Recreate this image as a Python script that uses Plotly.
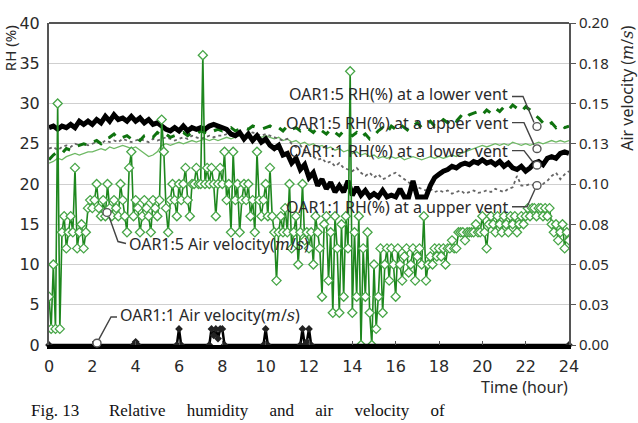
import plotly.graph_objects as go

# ---------------- data ----------------
# RH series sampled every 0.2 h (0 .. 24 h)
hours_rh = [round(i * 0.2, 1) for i in range(121)]

rh_oar11_lower = [
    27.0, 27.2, 26.8, 27.2, 27.0, 27.4, 27.0, 27.8, 27.4, 27.8,
    27.4, 28.0, 27.6, 28.4, 27.8, 28.6, 28.0, 28.2, 27.8, 28.4,
    27.8, 28.2, 27.6, 28.0, 27.4, 27.6, 27.2, 26.8, 26.6, 27.0,
    26.6, 27.2, 26.6, 27.0, 26.8, 27.0, 26.8, 27.2, 27.4, 27.2,
    27.0, 26.8, 26.2, 26.0, 26.4, 25.6, 26.2, 25.4, 26.0, 25.2,
    25.6, 24.8, 24.4, 24.8, 23.6, 23.8, 22.6, 23.2, 21.8, 22.4,
    20.8, 21.4, 19.8, 20.6, 19.4, 20.2, 19.0, 19.8, 19.0, 20.4,
    18.6, 19.6, 18.6, 19.2, 18.4, 18.8, 18.4, 19.2, 18.4, 18.6,
    18.4, 19.4, 18.4, 18.4, 20.4, 18.4, 18.4, 18.4, 19.8, 20.8,
    21.2, 21.6, 21.8, 22.2, 22.0, 22.4, 22.6, 22.4, 22.8, 22.6,
    23.0, 22.6, 22.8, 22.4, 22.8, 22.2, 22.6, 22.0, 21.8, 22.2,
    21.6, 22.0, 22.6, 22.8, 22.4, 23.2, 23.4, 23.2, 23.8, 24.0,
    23.8,
]

rh_oar11_upper = [
    24.4, 24.6, 24.2, 24.6, 24.8, 24.6, 25.0, 24.8, 25.0, 24.8,
    25.0, 25.2, 25.0, 25.4, 25.2, 25.4, 25.2, 25.6, 25.4, 25.2,
    25.4, 25.6, 25.4, 25.2, 25.6, 25.4, 25.6, 25.8, 25.6, 25.4,
    25.6, 25.8, 25.6, 26.0, 25.8, 25.6, 25.8, 26.0, 25.8, 26.0,
    26.0, 26.2, 26.0, 25.8, 26.2, 26.0, 26.2, 26.4, 26.2, 26.0,
    26.2, 26.0, 25.8, 25.6, 25.4, 25.6, 25.0, 24.6, 24.8, 24.2,
    23.8, 23.4, 23.0, 23.2, 22.6, 22.8, 22.2, 22.6, 22.0, 21.8,
    21.6, 22.0, 21.4, 21.0, 21.4, 20.8, 21.2, 20.6, 20.8, 21.2,
    21.4, 21.0, 20.6, 20.2, 19.8, 19.6, 19.4, 19.2, 19.4, 19.0,
    19.2, 19.0, 19.2, 18.8, 19.0, 19.2, 18.8, 19.0, 19.2, 18.9,
    19.0, 19.2, 19.0, 19.4, 19.2, 19.0, 19.4, 19.6, 21.0, 19.8,
    19.8, 20.0, 19.8, 20.2, 20.0, 20.4, 21.0, 21.4, 20.6, 21.2,
    21.6,
]

rh_oar15_lower = [
    23.0, 23.6, 24.0, 23.8, 24.4, 24.2, 24.6, 24.8, 25.0, 24.8,
    25.2, 25.4, 25.0, 25.6, 25.8, 26.2, 25.6, 25.8, 26.0, 25.6,
    25.8, 25.4, 26.0, 26.2, 25.8, 26.4, 26.0, 26.2, 25.8, 26.0,
    26.2, 26.4, 26.0, 26.4, 26.2, 26.6, 26.4, 26.2, 26.6, 26.8,
    26.6, 26.8, 27.0, 26.6, 26.8, 27.0, 26.8, 27.2, 27.0, 26.8,
    27.0, 27.2, 26.8, 27.0, 26.6, 27.2, 26.8, 27.0, 26.6, 27.0,
    26.8, 26.4, 27.0, 26.6, 26.2, 26.8, 26.4, 26.0, 26.6, 26.2,
    26.0, 26.4, 25.8, 26.2, 25.6, 26.0, 26.6, 27.0, 26.4, 27.2,
    26.8, 27.4, 27.0, 26.6, 27.2, 27.6, 27.0, 27.4, 27.8, 27.2,
    27.6, 28.0, 27.6, 28.2, 27.8, 28.4, 28.0, 28.6, 28.8, 29.0,
    28.6, 29.2, 28.8, 29.4, 29.0, 29.6, 29.2, 29.8, 29.4, 29.0,
    29.6, 29.2, 28.6, 28.2, 27.6, 27.2, 27.6, 27.0, 27.4, 27.0,
    27.2,
]

rh_oar15_upper = [
    22.6, 22.8, 23.2, 23.0, 23.4, 23.6, 23.8, 23.6, 23.8, 24.0,
    24.0, 24.2, 24.4, 24.2, 24.6, 24.4, 24.6, 24.8, 24.6, 24.4,
    24.6, 24.2, 23.8, 23.4, 23.6, 24.0, 24.8, 25.0, 24.8, 25.0,
    25.2, 25.0, 25.2, 25.4, 25.2, 25.4, 25.6, 25.4, 25.6, 25.4,
    25.6, 25.8, 25.6, 25.8, 26.0, 25.8, 26.0, 25.8, 26.0, 25.8,
    26.0, 25.8, 25.6, 25.8, 25.4, 25.6, 25.2, 25.4, 25.0, 25.2,
    24.8, 25.0, 24.6, 24.8, 24.4, 24.6, 24.2, 24.4, 24.0, 24.2,
    23.8, 24.0, 23.6, 23.8, 23.4, 23.6, 23.2, 23.4, 23.2, 23.4,
    23.2, 23.4, 23.0, 23.2, 23.4, 23.2, 23.0, 23.2, 23.4, 23.2,
    23.4, 23.2, 23.4, 23.6, 23.4, 23.8, 24.0, 24.2, 24.4, 24.6,
    24.8, 24.6, 24.8, 25.0, 24.8, 25.0, 24.8, 25.2, 25.0, 24.8,
    25.0, 24.8, 25.0, 25.2, 25.0, 25.2, 25.4, 25.2, 25.4, 25.2,
    25.4,
]

# OAR1:5 air velocity (m/s), sampled every 0.1 h
hours_vel = [round(i * 0.1, 1) for i in range(241)]
vel_oar15 = [
    0.030, 0.010, 0.050, 0.010, 0.150, 0.010, 0.070, 0.080, 0.060, 0.070,
    0.080, 0.070, 0.110, 0.060, 0.070, 0.075, 0.060, 0.070, 0.085, 0.090,
    0.085, 0.090, 0.100, 0.085, 0.080, 0.090, 0.080, 0.100, 0.085, 0.080,
    0.090, 0.085, 0.080, 0.100, 0.090, 0.080, 0.070, 0.110, 0.120, 0.080,
    0.090, 0.085, 0.070, 0.080, 0.090, 0.085, 0.080, 0.070, 0.090, 0.085,
    0.080, 0.090, 0.140, 0.120, 0.085, 0.070, 0.090, 0.100, 0.090, 0.080,
    0.100, 0.090, 0.100, 0.110, 0.090, 0.080, 0.100, 0.100, 0.110, 0.100,
    0.100, 0.180, 0.100, 0.110, 0.100, 0.110, 0.100, 0.080, 0.100, 0.110,
    0.100, 0.120, 0.090, 0.100, 0.070, 0.120, 0.090, 0.100, 0.070, 0.090,
    0.100, 0.090, 0.100, 0.080, 0.090, 0.070, 0.120, 0.090, 0.080, 0.090,
    0.100, 0.080, 0.110, 0.080, 0.070, 0.040, 0.070, 0.080, 0.070, 0.085,
    0.070, 0.100, 0.060, 0.070, 0.080, 0.050, 0.070, 0.100, 0.065, 0.070,
    0.060, 0.070, 0.050, 0.080, 0.070, 0.060, 0.030, 0.075, 0.080, 0.040,
    0.070, 0.020, 0.080, 0.060, 0.020, 0.075, 0.030, 0.080, 0.060, 0.170,
    0.020, 0.070, 0.030, 0.080, 0.000, 0.060, 0.030, 0.070, 0.020, 0.000,
    0.050, 0.010, 0.030, 0.060, 0.020, 0.050, 0.060, 0.040, 0.060, 0.050,
    0.030, 0.060, 0.050, 0.040, 0.055, 0.060, 0.045, 0.050, 0.060, 0.040,
    0.055, 0.060, 0.050, 0.080, 0.040, 0.050, 0.055, 0.050, 0.060, 0.055,
    0.060, 0.055, 0.060, 0.050, 0.060, 0.060, 0.065, 0.060, 0.060, 0.070,
    0.070, 0.070, 0.065, 0.070, 0.070, 0.070, 0.070, 0.075, 0.070, 0.070,
    0.080, 0.070, 0.060, 0.075, 0.080, 0.075, 0.070, 0.080, 0.075, 0.070,
    0.080, 0.075, 0.070, 0.080, 0.075, 0.080, 0.070, 0.075, 0.080, 0.075,
    0.080, 0.085, 0.080, 0.085, 0.085, 0.080, 0.085, 0.085, 0.080, 0.085,
    0.080, 0.085, 0.075, 0.070, 0.075, 0.065, 0.070, 0.075, 0.060, 0.070,
    0.065,
]

# OAR1:1 air velocity (m/s): mostly zero with short blips
hours_vel11 = [0.0, 3.9, 4.0, 4.1, 5.9, 6.0, 6.1, 7.4, 7.5, 7.6, 7.7, 7.8, 7.9,
               8.0, 8.1, 9.9, 10.0, 10.1, 11.6, 11.7, 11.8, 11.9, 12.0, 12.1, 24.0]
vel_oar11 = [0.0, 0.0, 0.002, 0.0, 0.0, 0.010, 0.0, 0.0, 0.010, 0.006, 0.010,
             0.004, 0.010, 0.010, 0.0, 0.0, 0.010, 0.0, 0.0, 0.010, 0.0, 0.002,
             0.010, 0.0, 0.0]

x_ticks = [0, 2, 4, 6, 8, 10, 12, 14, 16, 18, 20, 22, 24]
y2_tickvals = [0, 0.025, 0.05, 0.075, 0.1, 0.125, 0.15, 0.175, 0.2]
y2_ticktext = ["0.00", "0.03", "0.05", "0.08", "0.10", "0.13", "0.15", "0.18", "0.20"]

# ---------------- figure ----------------
W, H = 638, 423
ML, MR, MT, MB = 49, 69, 12, 78
PW, PH = W - ML - MR, H - MT - MB


def px(xp):
    return (xp - ML) / PW


def py(yp):
    return (MT + PH - yp) / PH


GREEN = "rgb(30,135,30)"
GREEN_MK = "rgb(70,165,70)"
DKGREEN = "rgb(15,115,15)"
TXT = "#2a2a2a"
FONT = "Noto Sans"

fig = go.Figure()

fig.add_trace(go.Scatter(
    x=hours_vel, y=vel_oar15, yaxis="y2", mode="lines+markers",
    line=dict(color=GREEN, width=1.6),
    marker=dict(symbol="diamond", size=7, color="white",
                line=dict(color=GREEN_MK, width=1.3)),
    name="OAR1:5 Air velocity", showlegend=False))

fig.add_trace(go.Scatter(
    x=hours_rh, y=rh_oar15_upper, mode="lines",
    line=dict(color="rgb(110,185,100)", width=1.3),
    name="OAR1:5 RH upper", showlegend=False))

fig.add_trace(go.Scatter(
    x=hours_rh, y=rh_oar11_upper, mode="lines",
    line=dict(color="#666666", width=1.8, dash="dot"),
    name="OAR1:1 RH upper", showlegend=False))

fig.add_trace(go.Scatter(
    x=hours_rh, y=rh_oar15_lower, mode="lines",
    line=dict(color=DKGREEN, width=3, dash="dash"),
    name="OAR1:5 RH lower", showlegend=False))

fig.add_trace(go.Scatter(
    x=hours_rh, y=rh_oar11_lower, mode="lines",
    line=dict(color="black", width=5),
    name="OAR1:1 RH lower", showlegend=False))

fig.add_trace(go.Scatter(
    x=hours_vel11, y=vel_oar11, yaxis="y2", mode="lines+markers",
    line=dict(color="black", width=2.5),
    marker=dict(symbol="diamond", size=6, color="#222"),
    cliponaxis=False,
    name="OAR1:1 Air velocity", showlegend=False))

annotations = []
shapes = []

# top border
shapes.append(dict(type="line", xref="paper", yref="paper", x0=0, x1=1, y0=1, y1=1,
                   line=dict(color="#555", width=2)))

label_font = dict(family=FONT, size=16, color=TXT)
mps = "(<i><span style='font-family:DejaVu Serif'>m</span></i>/<i><span style='font-family:DejaVu Serif'>s</span></i>)"

right_labels = [
    ("OAR1:5 RH(%) at a lower vent", 85),
    ("OAR1:5 RH(%) at a upper vent", 115),
    ("OAR1:1 RH(%) at a lower vent", 144),
    ("OAR1:1 RH(%) at a upper vent", 202),
]
for txt, yy in right_labels:
    annotations.append(dict(text=txt, xref="paper", yref="paper", x=px(510), y=py(yy),
                            xanchor="right", yanchor="middle", showarrow=False,
                            font=label_font))

annotations.append(dict(text="OAR1:5 Air velocity" + mps, xref="paper", yref="paper",
                        x=px(127), y=py(241), xanchor="left", yanchor="middle",
                        showarrow=False, font=label_font))
annotations.append(dict(text="OAR1:1 Air velocity" + mps, xref="paper", yref="paper",
                        x=px(118), y=py(314), xanchor="left", yanchor="middle",
                        showarrow=False, font=label_font))

# leader lines (pixel positions)
leaders = [
    [(512, 88), (523, 88), (534, 115)],
    [(512, 115), (524, 115), (534, 138)],
    [(512, 144), (524, 144), (533, 156)],
    [(512, 202), (527, 202), (535, 184)],
    [(109, 212), (118, 238), (126, 240)],
    [(99, 339), (111, 316), (117, 316)],
]
for pts in leaders:
    d = "M " + " L ".join(f"{px(a):.5f},{py(b):.5f}" for a, b in pts)
    shapes.append(dict(type="path", xref="paper", yref="paper", path=d,
                       line=dict(color="#444", width=1.4)))

circles = [(537, 119), (537, 142), (537, 159), (537, 180), (107, 208), (97, 343)]
for cx, cy in circles:
    shapes.append(dict(type="circle", xref="paper", yref="paper",
                       x0=px(cx - 4), x1=px(cx + 4), y0=py(cy + 4), y1=py(cy - 4),
                       fillcolor="white", line=dict(color="#555", width=1.4)))

# axis titles
annotations.append(dict(text="RH (%)", xref="paper", yref="paper", x=px(10), y=py(38),
                        textangle=-90, showarrow=False, xanchor="center", yanchor="middle",
                        font=dict(family=FONT, size=15, color=TXT)))
annotations.append(dict(text="Air velocity " + mps, xref="paper", yref="paper",
                        x=px(627), y=py(80), textangle=-90, showarrow=False,
                        xanchor="center", yanchor="middle",
                        font=dict(family=FONT, size=16, color=TXT)))
annotations.append(dict(text="Time (hour)", xref="paper", yref="paper", x=px(524),
                        y=py(388), showarrow=False, xanchor="center", yanchor="middle",
                        font=dict(family=FONT, size=16, color=TXT)))
sp = "\u00a0" * 5
caption = ("Fig.\u00a013" + "\u00a0" * 7 + "Relative" + sp + "humidity" + sp + "and" + sp
           + "air" + sp + "velocity" + sp + "of")
annotations.append(dict(text=caption,
                        xref="paper", yref="paper", x=px(30), y=py(424),
                        showarrow=False, xanchor="left", yanchor="bottom", borderpad=0,
                        font=dict(family="Liberation Serif", size=17, color="#111")))

fig.update_layout(
    width=W, height=H, autosize=False,
    margin=dict(l=ML, r=MR, t=MT, b=MB),
    paper_bgcolor="white", plot_bgcolor="white",
    showlegend=False,
    xaxis=dict(range=[0, 24], tickvals=x_ticks, showgrid=False, zeroline=False,
               showline=True, linecolor="black", linewidth=4,
               ticks="inside", ticklen=4, tickcolor="#555",
               tickfont=dict(family="DejaVu Sans", size=16, color=TXT),
               ticklabelstandoff=4),
    yaxis=dict(range=[0, 40], dtick=5, showgrid=True, gridcolor="#cfcfcf", gridwidth=1,
               zeroline=False, showline=True, linecolor="#555", linewidth=2,
               ticks="", tickfont=dict(family="DejaVu Sans", size=16, color=TXT),
               ticklabelstandoff=4),
    yaxis2=dict(range=[0, 0.2], overlaying="y", side="right", tickvals=y2_tickvals,
                ticktext=y2_ticktext, showgrid=False, zeroline=False, showline=True,
                linecolor="#555", linewidth=2, ticks="outside", ticklen=5,
                tickcolor="#555", tickfont=dict(family=FONT, size=15, color=TXT)),
    annotations=annotations,
    shapes=shapes,
)

fig.write_html("out.html")
